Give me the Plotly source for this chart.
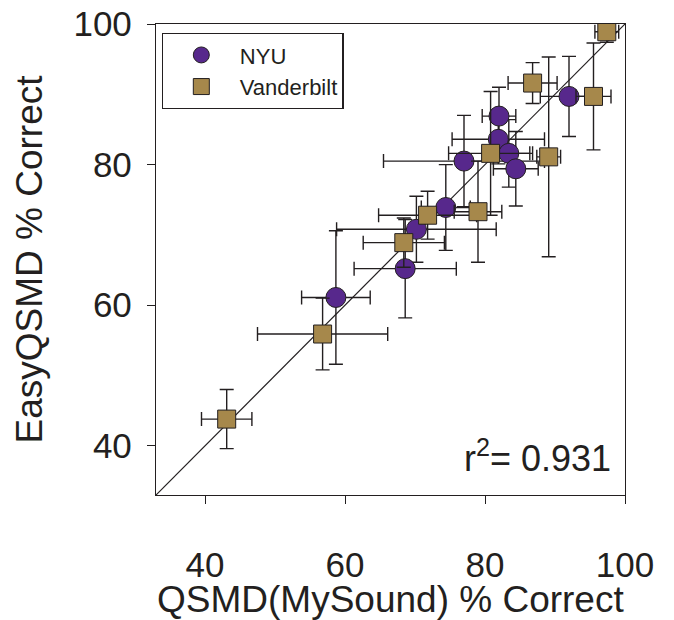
import plotly.graph_objects as go

# ---- data ----
nyu_x = [92.0, 82.0, 81.9, 83.4, 77.0, 84.4, 74.4, 70.2, 68.6, 58.7]
nyu_y = [89.7, 86.9, 83.6, 81.6, 80.5, 79.4, 73.9, 70.8, 65.2, 61.1]
nyu_xerr = [4.1, 2.4, 6.6, 3.0, 11.5, 3.2, 3.5, 11.4, 7.3, 4.9]
nyu_yerr = [5.7, 4.1, 3.5, 4.8, 6.5, 5.3, 6.1, 4.7, 7.0, 9.5]

van_x = [97.4, 86.8, 95.5, 80.8, 89.1, 79.0, 71.8, 68.4, 56.8, 43.1]
van_y = [98.9, 91.6, 89.7, 81.6, 81.1, 73.3, 72.8, 68.9, 55.9, 43.8]
van_xerr = [1.7, 3.5, 2.5, 6.0, 1.7, 3.4, 7.0, 5.8, 9.3, 3.6]
van_yerr = [1.5, 2.9, 7.6, 8.8, 14.2, 7.2, 3.4, 3.5, 5.1, 4.2]

axis_range = [33, 100]
tick_vals = [40, 60, 80, 100]
x_title = "QSMD(MySound) % Correct"
y_title = "EasyQSMD % Correct"
r2_text = "r<sup>2</sup>= 0.931"

FONT = "Liberation Sans, Arial, sans-serif"
INK = "#231f20"
NYU_COLOR = "#57288c"
VAN_COLOR = "#a6884b"

err_style = dict(type="data", color=INK, thickness=1.4, width=7)

fig = go.Figure()

# identity line
fig.add_trace(go.Scatter(x=axis_range, y=axis_range, mode="lines",
                         line=dict(color=INK, width=1.2), showlegend=False,
                         hoverinfo="skip"))

fig.add_trace(go.Scatter(
    x=nyu_x, y=nyu_y, mode="markers", name="NYU",
    marker=dict(symbol="circle", size=20, color=NYU_COLOR,
                line=dict(color=INK, width=1)),
    error_x=dict(array=nyu_xerr, **err_style),
    error_y=dict(array=nyu_yerr, **err_style),
))
fig.add_trace(go.Scatter(
    x=van_x, y=van_y, mode="markers", name="Vanderbilt",
    marker=dict(symbol="square", size=18, color=VAN_COLOR,
                line=dict(color=INK, width=1)),
    error_x=dict(array=van_xerr, **err_style),
    error_y=dict(array=van_yerr, **err_style),
))

axis_common = dict(
    range=axis_range, tickvals=tick_vals, ticks="outside", ticklen=8,
    tickwidth=1.2, tickcolor=INK, showline=True, linecolor=INK, linewidth=1.3,
    mirror=True, showgrid=False, zeroline=False, automargin=False,
    ticklabeloverflow="allow",
    tickfont=dict(family=FONT, size=35, color=INK),
    title_font=dict(family=FONT, size=37, color=INK),
)

# the page body adds an 8px offset; margins compensate for it
fig.update_layout(
    width=674, height=620,
    margin=dict(l=148, r=57, t=16, b=133),
    plot_bgcolor="white", paper_bgcolor="white",
    font=dict(family=FONT, color=INK),
    xaxis=dict(ticklabelstandoff=31, **axis_common),
    yaxis=dict(title=dict(text=y_title, standoff=19),
               ticklabelstandoff=8, **axis_common),
    legend=dict(x=0.012, y=0.981, xanchor="left", yanchor="top",
                bordercolor=INK, borderwidth=1.2, bgcolor="white",
                font=dict(family=FONT, size=22, color=INK),
                itemwidth=67, tracegroupgap=0),
    annotations=[
        dict(text=r2_text, xref="paper", yref="paper",
             x=0.975, y=0.03, xanchor="right", yanchor="bottom",
             showarrow=False, font=dict(family=FONT, size=36, color=INK)),
        dict(text=x_title, xref="paper", yref="paper",
             x=0.5, y=0, xanchor="center", yanchor="top", yshift=-82,
             showarrow=False, font=dict(family=FONT, size=37, color=INK)),
    ],
)

fig.write_html("out.html")
